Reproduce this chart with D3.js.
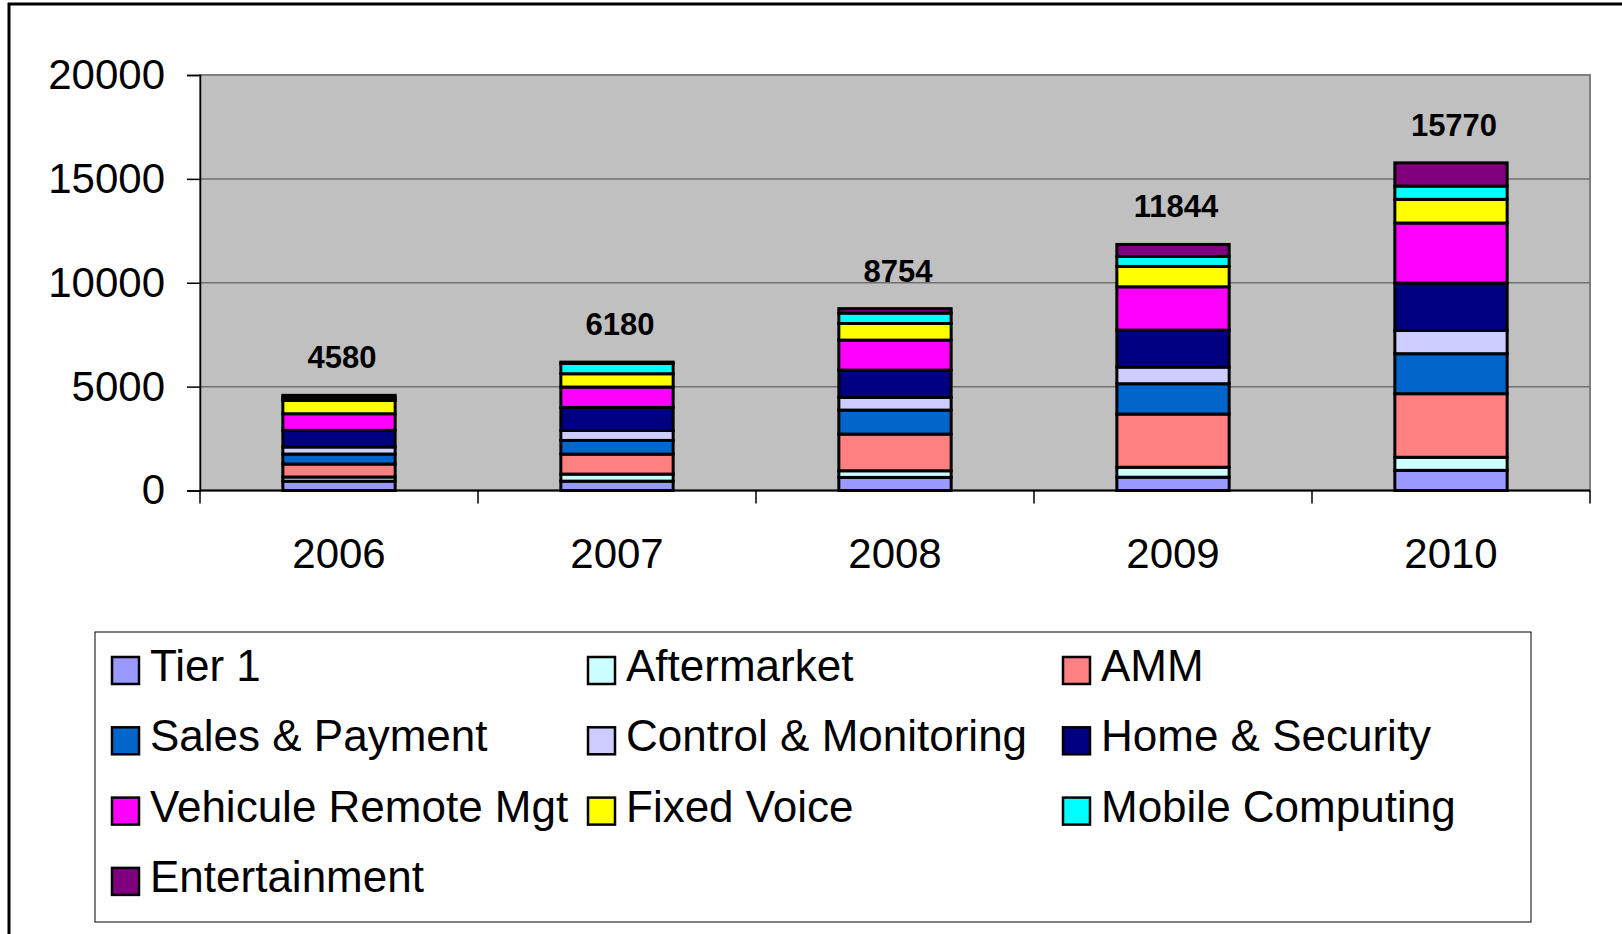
<!DOCTYPE html>
<html>
<head>
<meta charset="utf-8">
<script src="https://d3js.org/d3.v7.min.js"></script>
<style>
  body { margin: 0; background: #fff; }
  svg { display: block; font-family: "Liberation Sans", Arial, sans-serif; }
</style>
</head>
<body>
<svg id="chart" width="1622" height="934"></svg>
<script>
// categories
var years = ['2006', '2007', '2008', '2009', '2010'];
// series, bottom to top in each stack
var series = ['Tier 1', 'Aftermarket', 'AMM', 'Sales & Payment', 'Control & Monitoring',
  'Home & Security', 'Vehicule Remote Mgt', 'Fixed Voice', 'Mobile Computing', 'Entertainment'];
var colors = ['#9999FF', '#CCFFFF', '#FF8080', '#0066CC', '#CCCCFF',
  '#000080', '#FF00FF', '#FFFF00', '#00FFFF', '#800080'];
// values per series (one per year)
var tier1 = [450, 450, 630, 640, 970];
var aftermarket = [200, 340, 320, 480, 630];
var amm = [625, 960, 1765, 2560, 3060];
var salesPayment = [480, 660, 1155, 1460, 1925];
var controlMonitoring = [340, 480, 610, 800, 1120];
var homeSecurity = [800, 1110, 1315, 1780, 2280];
var vehiculeRemote = [800, 980, 1444, 2085, 2890];
var fixedVoice = [640, 640, 800, 980, 1140];
var mobileComputing = [150, 500, 500, 480, 640];
var entertainment = [95, 60, 215, 579, 1115];
// totals shown above the bars
var totals = [4580, 6180, 8754, 11844, 15770];
// y axis ticks
var yTicks = [0, 5000, 10000, 15000, 20000];

var seriesValues = [tier1, aftermarket, amm, salesPayment, controlMonitoring,
  homeSecurity, vehiculeRemote, fixedVoice, mobileComputing, entertainment];

var svg = d3.select('#chart');

// outer frame (runs off the right and bottom edges)
svg.append('rect')
  .attr('x', 9).attr('y', 4)
  .attr('width', 1700).attr('height', 1000)
  .attr('fill', 'white')
  .attr('stroke', 'black')
  .attr('stroke-width', 3);

var plotLeft = 200, plotRight = 1590, plotTop = 75, plotBottom = 490.5;

var x = d3.scaleBand().domain(years).range([plotLeft, plotRight]).padding(0);
var y = d3.scaleLinear().domain([0, 20000]).range([plotBottom, plotTop]);

// plot area
svg.append('rect')
  .attr('x', plotLeft).attr('y', plotTop)
  .attr('width', plotRight - plotLeft).attr('height', plotBottom - plotTop)
  .attr('fill', '#C0C0C0')
  .attr('stroke', '#808080')
  .attr('stroke-width', 2);

// gridlines
svg.append('g')
  .selectAll('line')
  .data(yTicks.slice(1, -1))
  .enter()
  .append('line')
  .attr('x1', plotLeft).attr('x2', plotRight)
  .attr('y1', function(d) { return y(d); })
  .attr('y2', function(d) { return y(d); })
  .attr('stroke', '#707070')
  .attr('stroke-width', 1.5);

// y axis
var yAxis = svg.append('g')
  .attr('transform', 'translate(' + plotLeft + ',0)')
  .call(d3.axisLeft(y).tickValues(yTicks).tickSize(13).tickPadding(22).tickFormat(d3.format('d')));
yAxis.select('.domain').attr('stroke', 'black').attr('stroke-width', 1.5);
yAxis.selectAll('.tick line').attr('stroke', 'black').attr('stroke-width', 1.5);
yAxis.selectAll('.tick text')
  .attr('fill', 'black')
  .style('font-size', '42px')
  .style('font-family', '"Liberation Sans", Arial, sans-serif');

// x axis
var xAxisG = svg.append('g');
xAxisG.append('line')
  .attr('x1', plotLeft).attr('x2', plotRight)
  .attr('y1', plotBottom).attr('y2', plotBottom)
  .attr('stroke', 'black').attr('stroke-width', 2);
var boundaries = [plotLeft].concat(years.map(function(d) { return x(d) + x.bandwidth(); }));
xAxisG.selectAll('line.tk')
  .data(boundaries)
  .enter()
  .append('line')
  .attr('class', 'tk')
  .attr('x1', function(d) { return d; }).attr('x2', function(d) { return d; })
  .attr('y1', plotBottom).attr('y2', plotBottom + 13)
  .attr('stroke', 'black').attr('stroke-width', 1.5);
xAxisG.selectAll('text')
  .data(years)
  .enter()
  .append('text')
  .attr('x', function(d) { return x(d) + x.bandwidth() / 2; })
  .attr('y', 568)
  .attr('text-anchor', 'middle')
  .style('font-size', '42px')
  .text(function(d) { return d; });

// stacked bars
var rows = years.map(function(yr, i) {
  var r = { year: yr };
  series.forEach(function(s, j) { r[s] = seriesValues[j][i]; });
  return r;
});
var stacked = d3.stack().keys(series)(rows);
var barW = x.bandwidth() * 0.404;

svg.append('g')
  .selectAll('g')
  .data(stacked)
  .enter()
  .append('g')
  .attr('fill', function(d, i) { return colors[i]; })
  .selectAll('rect')
  .data(function(d) { return d; })
  .enter()
  .append('rect')
  .attr('x', function(d) { return x(d.data.year) + (x.bandwidth() - barW) / 2; })
  .attr('y', function(d) { return y(d[1]); })
  .attr('width', barW)
  .attr('height', function(d) { return y(d[0]) - y(d[1]); })
  .attr('stroke', 'black')
  .attr('stroke-width', 3);

// totals
svg.append('g')
  .selectAll('text')
  .data(totals)
  .enter()
  .append('text')
  .attr('x', function(d, i) { return x(years[i]) + x.bandwidth() / 2 + 3; })
  .attr('y', function(d) { return y(d) - 27; })
  .attr('text-anchor', 'middle')
  .style('font-size', '31px')
  .style('font-weight', 'bold')
  .text(function(d) { return d; });

// legend
svg.append('rect')
  .attr('x', 95).attr('y', 632)
  .attr('width', 1436).attr('height', 290)
  .attr('fill', 'white')
  .attr('stroke', 'black')
  .attr('stroke-width', 1);

var colX = [112, 588, 1063];
var legend = svg.append('g')
  .selectAll('g')
  .data(series)
  .enter()
  .append('g')
  .attr('transform', function(d, i) {
    return 'translate(' + colX[i % 3] + ',' + (681 + Math.floor(i / 3) * 70.3) + ')';
  });
legend.append('rect')
  .attr('x', 0).attr('y', -24)
  .attr('width', 27).attr('height', 27)
  .attr('fill', function(d, i) { return colors[i]; })
  .attr('stroke', 'black')
  .attr('stroke-width', 2.5);
legend.append('text')
  .attr('x', 38).attr('y', 0)
  .style('font-size', '44px')
  .text(function(d) { return d; });
</script>
</body>
</html>
